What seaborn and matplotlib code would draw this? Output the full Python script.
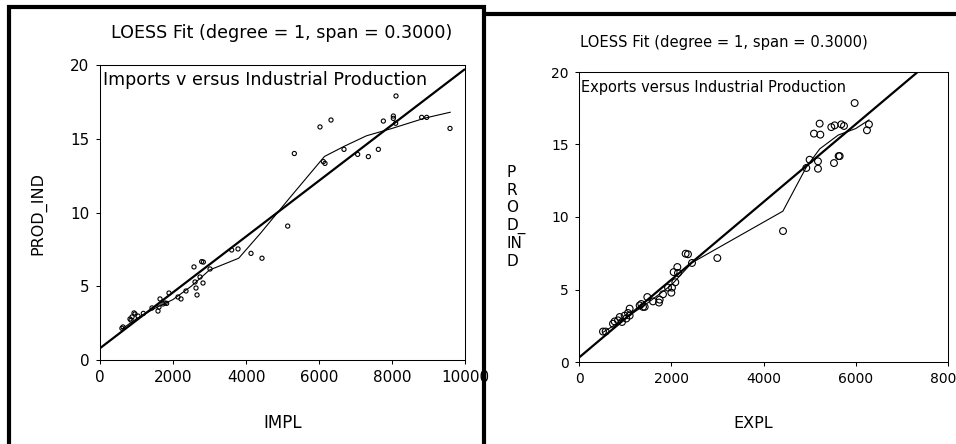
import numpy as np
import pandas as pd
import matplotlib
matplotlib.use("Agg")
import matplotlib.pyplot as plt
import seaborn as sns
from matplotlib.lines import Line2D

# ---------------- data ----------------
impl = [600, 630, 822, 850, 877, 932, 959, 1041, 1187, 1425, 1589, 1616, 1644,
        1726, 1781, 1826, 1890, 2137, 2219, 2356, 2575, 2603, 2630, 2658, 2740,
        2785, 2822, 2831, 3014, 3607, 3781, 4137, 4438, 5142, 5324, 6027, 6119,
        6164, 6329, 6685, 7059, 7352, 7626, 7763, 8037, 8037, 8110, 8100, 8813,
        8950, 9589]
prod_imp = [2.15, 2.24, 2.78, 2.70, 2.92, 3.19, 3.12, 2.98, 3.16, 3.53, 3.32, 3.59,
            4.14, 3.80, 3.86, 3.84, 4.54, 4.27, 4.14, 4.68, 6.31, 5.29, 4.88, 4.41,
            5.63, 6.67, 5.22, 6.64, 6.17, 7.46, 7.53, 7.23, 6.90, 9.08, 14.00, 15.80,
            13.45, 13.33, 16.27, 14.28, 13.94, 13.79, 14.28, 16.20, 16.54, 16.38,
            17.90, 16.05, 16.45, 16.45, 15.70]
loess_imp_x = [600, 1000, 1500, 2000, 2500, 3000, 3800, 4400, 5200, 6150, 6700,
               7300, 8000, 8900, 9600]
loess_imp_y = [2.1, 2.8, 3.5, 4.1, 5.0, 6.1, 6.9, 8.6, 11.0, 13.8, 14.5, 15.2,
               15.7, 16.4, 16.8]

expl = [520, 578, 737, 773, 845, 882, 932, 990, 1026, 1062, 1098, 1098, 1315,
        1351, 1387, 1424, 1481, 1604, 1734, 1749, 1821, 1930, 2002, 2016, 2052,
        2088, 2132, 2146, 2312, 2363, 2450, 2999, 4423, 4928, 5000, 5094, 5181,
        5181, 5217, 5232, 5470, 5528, 5542, 5629, 5651, 5687, 5745, 5976, 6243,
        6286]
prod_exp = [2.10, 2.10, 2.64, 2.80, 2.87, 3.10, 2.76, 3.20, 3.00, 3.38, 3.20, 3.68,
            3.90, 4.00, 3.80, 3.80, 4.48, 4.18, 4.10, 4.30, 4.67, 5.13, 4.78, 5.13,
            6.20, 5.50, 6.55, 6.14, 7.47, 7.43, 6.83, 7.17, 9.03, 13.38, 13.95, 15.75,
            13.84, 13.33, 16.44, 15.68, 16.20, 13.72, 16.32, 14.20, 14.20, 16.39,
            16.28, 17.86, 15.98, 16.39]
loess_exp_x = [520, 1000, 1500, 2000, 2450, 4420, 4930, 5220, 5620, 6000, 6290]
loess_exp_y = [2.05, 3.0, 4.1, 5.3, 6.85, 10.4, 13.45, 14.7, 15.65, 16.1, 16.7]

title_text = "LOESS Fit (degree = 1, span = 0.3000)"
inner_imp = "Imports v ersus Industrial Production"
inner_exp = "Exports versus Industrial Production"
yticks = [0, 5, 10, 15, 20]
xticks_imp = [0, 2000, 4000, 6000, 8000, 10000]
xticks_exp = [0, 2000, 4000, 6000, 8000]

# ---------------- style ----------------
sns.set_theme(style="white")
plt.rcParams["font.family"] = ["DejaVu Sans"]

W, H = 956, 444
fig = plt.figure(figsize=(W / 100, H / 100), dpi=100)
fig.patch.set_facecolor("white")

ax1 = fig.add_axes([100 / W, 1 - 360 / H, 365 / W, 295 / H])
ax2 = fig.add_axes([579 / W, 1 - 362 / H, 369 / W, 290 / H])


def panel(ax, x, y, lx, ly, xmax, xticks, msize, tick_fs):
    ax.set_xlim(0, xmax)
    ax.set_ylim(0, 20)
    sns.regplot(x=np.array(x, float), y=np.array(y, float), scatter=False,
                ci=None, truncate=False, ax=ax,
                line_kws=dict(color="black", lw=1.6, solid_capstyle="butt"))
    sns.lineplot(x=lx, y=ly, sort=False, estimator=None, color="black",
                 lw=0.8, ax=ax)
    sns.scatterplot(x=x, y=y, ax=ax, marker="o", s=msize, facecolor="none",
                    edgecolor="black", linewidth=0.8, zorder=3)
    ax.set_xlim(0, xmax)
    ax.set_ylim(0, 20)
    ax.set_xticks(xticks)
    ax.set_yticks(yticks)
    ax.set_xticklabels([str(t) for t in xticks])
    ax.set_yticklabels([str(t) for t in yticks])
    ax.tick_params(direction="out", length=3, width=0.75, pad=4.5,
                   labelsize=tick_fs, colors="black",
                   left=True, bottom=True, top=False, right=False)
    ax.grid(False)
    for sp in ax.spines.values():
        sp.set_visible(True)
        sp.set_color("black")
        sp.set_linewidth(0.75)
    ax.set_facecolor("white")


panel(ax1, impl, prod_imp, loess_imp_x, loess_imp_y, 10000, xticks_imp, 9, 10.9)
panel(ax2, expl, prod_exp, loess_exp_x, loess_exp_y, 8000, xticks_exp, 24, 10.0)

# titles and inner texts
ax1.text(0.4986, 1.108, title_text, transform=ax1.transAxes, ha="center",
         va="center", fontsize=12.6, color="black")
ax1.text(0.008, 0.949, inner_imp, transform=ax1.transAxes, ha="left",
         va="center", fontsize=12.6, color="black")
ax2.text(0.393, 1.103, title_text, transform=ax2.transAxes, ha="center",
         va="center", fontsize=10.6, color="black")
ax2.text(0.005, 0.945, inner_exp, transform=ax2.transAxes, ha="left",
         va="center", fontsize=10.5, color="black")

# axis labels
ax1.set_xlabel("IMPL", fontsize=12, color="black", va="center")
ax1.xaxis.set_label_coords(0.5, (360 - 423) / 295)
ax1.set_ylabel("PROD_IND", fontsize=11.5, color="black", va="center", ha="center")
ax1.yaxis.set_label_coords((38 - 100) / 365, (360 - 213) / 295)

ax2.set_xlabel("EXPL", fontsize=11.5, color="black", va="center")
ax2.xaxis.set_label_coords((753 - 579) / 369, (362 - 423) / 290)
ax2.set_ylabel("")
fig.text(506 / W, 1 - 217 / H, "P\nR\nO\nD_\nIN\nD", ha="left", va="center",
         fontsize=11, linespacing=1.2, color="black")

# panel frames
lw_frame = 3.0
fig.add_artist(Line2D([8.5 / W, 8.5 / W, 484 / W, 484 / W],
                      [-0.05, 1 - 7.5 / H, 1 - 7.5 / H, -0.05],
                      transform=fig.transFigure, color="black", lw=lw_frame,
                      solid_joinstyle="miter"))
fig.add_artist(Line2D([484 / W, 1.05], [1 - 14 / H, 1 - 14 / H],
                      transform=fig.transFigure, color="black", lw=lw_frame))

fig.savefig("out.png", dpi=100, facecolor="white")
